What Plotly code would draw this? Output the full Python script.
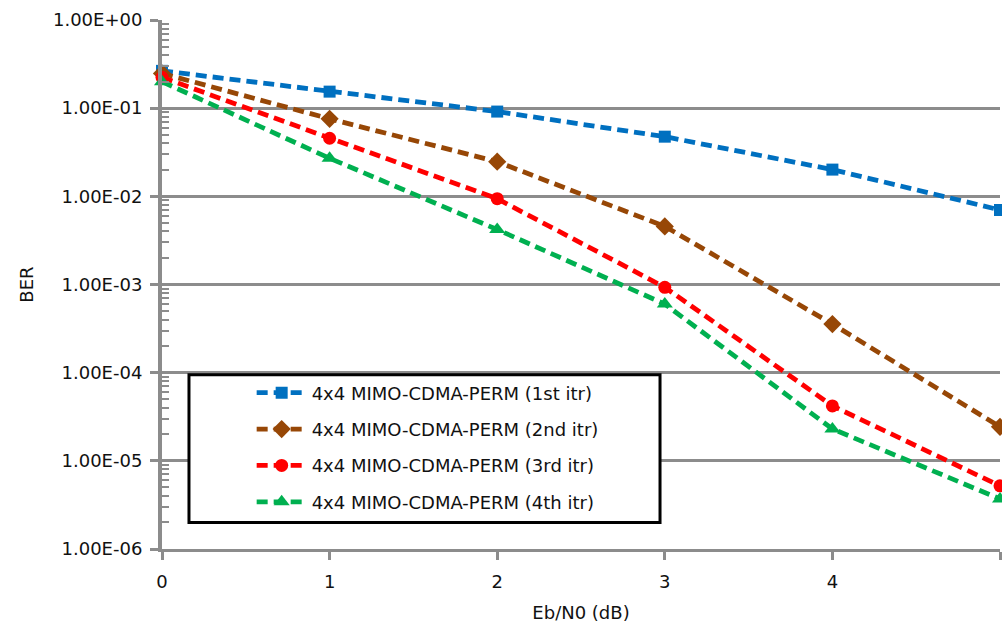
import plotly.graph_objects as go

# Eb/N0 sweep (dB)
ebn0 = [0, 1, 2, 3, 4, 5]

# BER per receiver iteration
ber_itr1 = [0.265, 0.154, 0.0915, 0.0475, 0.0201, 0.0070]
ber_itr2 = [0.248, 0.0757, 0.0247, 0.00456, 0.000356, 0.0000243]
ber_itr3 = [0.224, 0.0456, 0.0094, 0.00093, 0.000042, 0.0000052]
ber_itr4 = [0.200, 0.0270, 0.0042, 0.00060, 0.000023, 0.0000037]

series_names = [
    "4x4 MIMO-CDMA-PERM (1st itr)",
    "4x4 MIMO-CDMA-PERM (2nd itr)",
    "4x4 MIMO-CDMA-PERM (3rd itr)",
    "4x4 MIMO-CDMA-PERM (4th itr)",
]

y_tick_vals = [1, 1e-1, 1e-2, 1e-3, 1e-4, 1e-5, 1e-6]
y_tick_text = ["1.00E+00", "1.00E-01", "1.00E-02", "1.00E-03",
               "1.00E-04", "1.00E-05", "1.00E-06"]
x_tick_vals = [0, 1, 2, 3, 4, 5]

styles = [
    dict(color="#0070C0", symbol="square", size=12),
    dict(color="#974706", symbol="diamond", size=14),
    dict(color="#FF0000", symbol="circle", size=13),
    dict(color="#00B050", symbol="triangle-up", size=14),
]

FONT = "DejaVu Sans"
GRID = "#8C8C8C"

fig = go.Figure()
for i, (name, ys, st) in enumerate(zip(series_names, [ber_itr1, ber_itr2, ber_itr3, ber_itr4], styles)):
    fig.add_trace(go.Scatter(
        x=ebn0, y=ys, name=name, mode="lines+markers", legendgroup=f"g{i}",
        line=dict(color=st["color"], width=4.8, dash="11px,6px"),
        marker=dict(color=st["color"], symbol=st["symbol"], size=st["size"]),
        cliponaxis=False,
    ))

fig.update_layout(
    width=1002, height=627,
    margin=dict(l=162, r=2, t=20, b=78),
    paper_bgcolor="white", plot_bgcolor="white",
    font=dict(family=FONT, size=18, color="#111111"),
    showlegend=True,
    legend=dict(
        x=0.107, y=0.330, xanchor="left", yanchor="top",
        bgcolor="rgba(0,0,0,0)", borderwidth=0,
        font=dict(family=FONT, size=18, color="#111111"),
        itemwidth=50, tracegroupgap=10,
    ),
    shapes=[dict(
        type="rect", xref="paper", yref="paper",
        x0=0.0322, x1=0.5943, y0=0.0502, y1=0.3296,
        line=dict(color="black", width=3), fillcolor="white", layer="above",
    )],
)

fig.update_xaxes(
    range=[0, 5], tickvals=x_tick_vals,
    showgrid=False, zeroline=False,
    showline=True, linecolor=GRID, linewidth=3,
    ticks="outside", ticklen=8, tickwidth=3, tickcolor=GRID,
    ticklabelstandoff=6,
    tickfont=dict(family=FONT, size=18),
    title=dict(text="Eb/N0 (dB)", font=dict(family=FONT, size=18), standoff=16),
)

fig.update_yaxes(
    type="log", range=[-6, 0],
    tickvals=y_tick_vals, ticktext=y_tick_text,
    showgrid=True, gridcolor=GRID, gridwidth=3,
    zeroline=False,
    showline=True, linecolor=GRID, linewidth=4,
    ticks="outside", ticklen=8, tickwidth=3, tickcolor=GRID,
    ticklabelstandoff=4,
    tickfont=dict(family=FONT, size=18),
    minor=dict(ticks="inside", ticklen=7, tickwidth=2, tickcolor=GRID,
               tickvals=[m * 10.0 ** e for e in range(-6, 0) for m in range(2, 10)],
               showgrid=False),
    title=dict(text="BER", font=dict(family=FONT, size=18), standoff=16),
)

fig.write_html("out.html")
